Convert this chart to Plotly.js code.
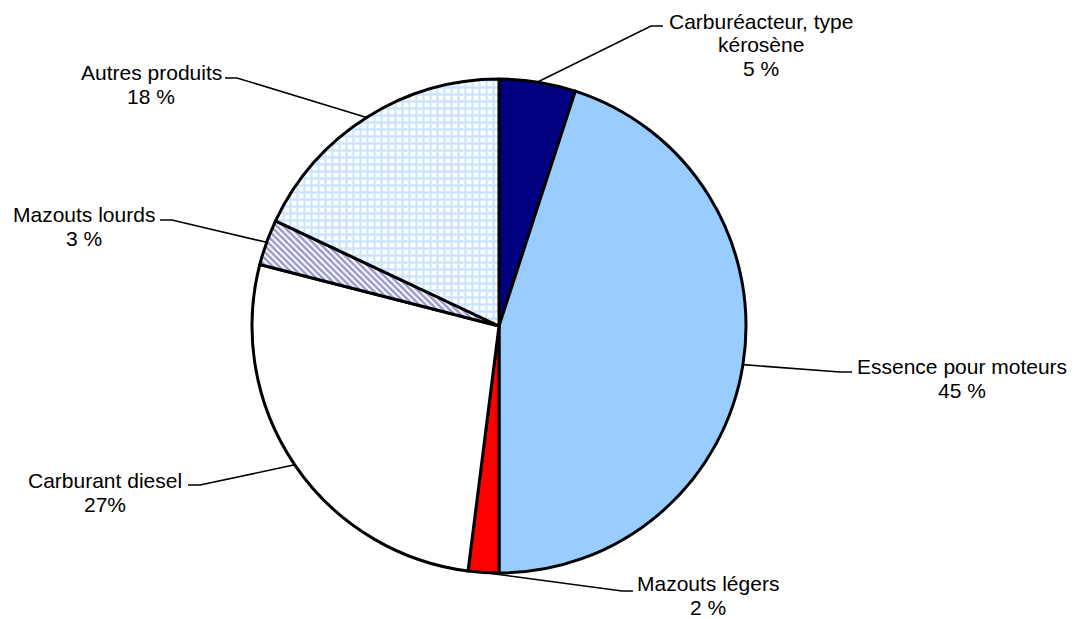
<!DOCTYPE html>
<html>
<head>
<meta charset="utf-8">
<script src="https://cdn.plot.ly/plotly-3.0.1.min.js"></script>
<style>html,body{margin:0;padding:0;background:#fff}#chart{width:1079px;height:619px}</style>
</head>
<body>
<div id="chart"></div>
<script>
// ---- data ----
const categories = ['Carburéacteur, type\nkérosène', 'Essence pour moteurs', 'Mazouts légers', 'Carburant diesel', 'Mazouts lourds', 'Autres produits'];
const values = [5, 45, 2, 27, 3, 18];
const percentLabels = ['5 %', '45 %', '2 %', '27%', '3 %', '18 %'];

// ---- styles / layout positions (pixels) ----
const W = 1079, H = 619;
const cx = 499, cy = 326, R = 247;
const fillColors = ['#000080', '#99CCFF', '#FF0000', '#FFFFFF', '#FFFFFF', '#FFFFFF'];
const patShapes = ['', '', '', '', '\\', '+'];
const patFg = ['#000080', '#99CCFF', '#FF0000', '#FFFFFF', '#333399', '#99CCFF'];
const patSize = [5, 5, 5, 5, 4.5, 7];
const patSolidity = [0.3, 0.3, 0.3, 0.3, 0.55, 0.55];
const elbows = [[651, 26], [840, 372], [622, 591], [200, 485], [172, 220], [237, 78]];
const hEnds = [[663, 26], [852, 372], [633, 591], [188, 485], [160, 220], [225, 78]];
const textPos = [[761, 21], [962, 366], [708, 583], [105, 480], [84, 214], [151, 72]];
const lineGap = 24;
const fontFam = '"Liberation Sans", Arial, sans-serif';

const px = x => x / W;
const py = y => 1 - y / H;

const trace = {
  type: 'pie',
  values: values,
  labels: categories,
  sort: false,
  direction: 'clockwise',
  rotation: 0,
  textinfo: 'none',
  hoverinfo: 'none',
  showlegend: false,
  domain: {x: [px(cx - R), px(cx + R)], y: [py(cy + R), py(cy - R)]},
  marker: {
    colors: fillColors,
    line: {color: '#000000', width: 3},
    pattern: {shape: patShapes, fgcolor: patFg, bgcolor: fillColors, size: patSize, solidity: patSolidity, fillmode: 'overlay'}
  }
};

const total = values.reduce((a, b) => a + b, 0);
const shapes = [];
const annotations = [];
let cum = 0;
values.forEach((v, i) => {
  const mid = (cum + v / 2) / total * 2 * Math.PI;
  cum += v;
  const sx = cx + R * Math.sin(mid), sy = cy - R * Math.cos(mid);
  const [ex, ey] = elbows[i];
  const [hx, hy] = hEnds[i];
  shapes.push({type: 'path', xref: 'paper', yref: 'paper',
    path: `M ${px(sx)} ${py(sy)} L ${px(ex)} ${py(ey)} L ${px(hx)} ${py(hy)}`,
    line: {color: '#000000', width: 1.6}});
  const lines = categories[i].split('\n').concat([percentLabels[i]]);
  lines.forEach((t, k) => {
    annotations.push({xref: 'paper', yref: 'paper', x: px(textPos[i][0]), y: py(textPos[i][1] + k * lineGap),
      text: t, showarrow: false, xanchor: 'center', yanchor: 'middle',
      font: {family: fontFam, size: 21, color: '#000000'}});
  });
});

Plotly.newPlot('chart', [trace], {
  width: W, height: H,
  margin: {l: 0, r: 0, t: 0, b: 0},
  paper_bgcolor: '#ffffff', plot_bgcolor: '#ffffff',
  shapes: shapes, annotations: annotations
}, {displayModeBar: false, staticPlot: true});
</script>
</body>
</html>
